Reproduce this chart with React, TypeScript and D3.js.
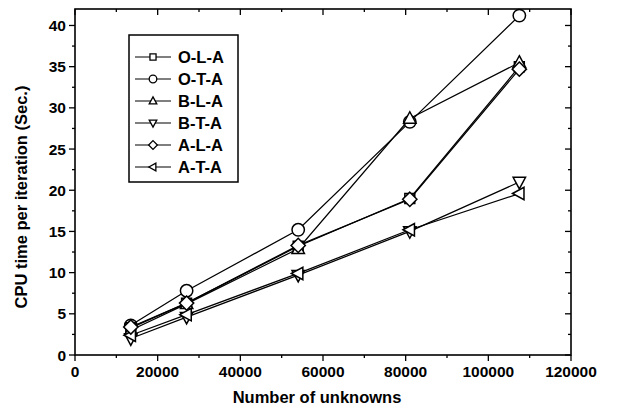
import React from "react";
import * as d3 from "d3";

const xValues = [13500, 27000, 54000, 81000, 107500];
const seriesNames = ["O-L-A", "O-T-A", "B-L-A", "B-T-A", "A-L-A", "A-T-A"];
const markerTypes = ["square", "circle", "triangleUp", "triangleDown", "diamond", "triangleLeft"];
const olaValues = [3.3, 6.3, 13.2, 19.0, 35.0];
const otaValues = [3.6, 7.8, 15.2, 28.3, 41.2];
const blaValues = [3.0, 6.2, 12.9, 28.7, 35.5];
const btaValues = [2.0, 4.6, 9.7, 15.0, 21.0];
const alaValues = [3.4, 6.3, 13.3, 18.9, 34.7];
const ataValues = [2.4, 4.9, 9.9, 15.2, 19.6];
const seriesValues = [olaValues, otaValues, blaValues, btaValues, alaValues, ataValues];
const xTicks = [0, 20000, 40000, 60000, 80000, 100000, 120000];
const yTicks = [0, 5, 10, 15, 20, 25, 30, 35, 40];

const W = 619, H = 411;
const left = 75, right = 571, top = 9, bottom = 355;
const FONT = "'Liberation Sans', Arial, Helvetica, sans-serif";

function markerPath(type: string, cx: number, cy: number, s: number): string {
  const r = s;
  switch (type) {
    case "square":
      return `M${cx - r * 0.8},${cy - r * 0.8}h${1.6 * r}v${1.6 * r}h${-1.6 * r}Z`;
    case "triangleUp":
      return `M${cx},${cy - r * 1.1}L${cx + r},${cy + r * 0.75}L${cx - r},${cy + r * 0.75}Z`;
    case "triangleDown":
      return `M${cx},${cy + r * 1.1}L${cx + r},${cy - r * 0.75}L${cx - r},${cy - r * 0.75}Z`;
    case "triangleLeft":
      return `M${cx - r * 1.1},${cy}L${cx + r * 0.75},${cy - r}L${cx + r * 0.75},${cy + r}Z`;
    case "diamond":
      return `M${cx},${cy - r * 1.15}L${cx + r * 1.15},${cy}L${cx},${cy + r * 1.15}L${cx - r * 1.15},${cy}Z`;
    default:
      return "";
  }
}

function Marker({ type, cx, cy, s, sw }: { type: string; cx: number; cy: number; s: number; sw: number }) {
  if (type === "circle") {
    return <circle cx={cx} cy={cy} r={s} fill="white" stroke="black" strokeWidth={sw} />;
  }
  return <path d={markerPath(type, cx, cy, s)} fill="white" stroke="black" strokeWidth={sw} strokeLinejoin="miter" />;
}

export default function App() {
  const x = d3.scaleLinear().domain([0, 120000]).range([left, right]);
  const y = d3.scaleLinear().domain([0, 42]).range([bottom, top]);
  const line = d3
    .line<[number, number]>()
    .x((d) => x(d[0]))
    .y((d) => y(d[1]));

  const xMinor = d3.range(0, 120001, 10000);
  const yMinor = d3.range(0, 42.01, 2.5);

  const legendRows = [57, 79, 101, 123, 145, 167];
  const drawOrder = [1, 0, 2, 3, 5, 4];

  return (
    <svg width={W} height={H} style={{ position: "absolute", left: 0, top: 0, background: "white" }}>
      <rect x={0} y={0} width={W} height={H} fill="white" />
      {/* ticks */}
      <g stroke="black" strokeWidth={1.3}>
        {xMinor.map((v) => {
          const major = v % 20000 === 0;
          const len = major ? 6 : 3;
          return (
            <g key={"xt" + v}>
              <line x1={x(v)} x2={x(v)} y1={bottom} y2={bottom + len} />
              <line x1={x(v)} x2={x(v)} y1={top} y2={top + len} />
            </g>
          );
        })}
        {yMinor.map((v) => {
          const major = v % 5 === 0;
          const len = major ? 6 : 3;
          return (
            <g key={"yt" + v}>
              <line x1={left - len} x2={left} y1={y(v)} y2={y(v)} />
              <line x1={right - len} x2={right} y1={y(v)} y2={y(v)} />
            </g>
          );
        })}
      </g>
      <rect x={left} y={top} width={right - left} height={bottom - top} fill="none" stroke="black" strokeWidth={1.6} />
      {/* tick labels */}
      <g fontFamily={FONT} fontWeight="bold" fontSize={15.5} fill="black">
        {xTicks.map((v) => (
          <text key={"xl" + v} x={x(v)} y={377} textAnchor="middle">
            {v}
          </text>
        ))}
        {yTicks.map((v) => (
          <text key={"yl" + v} x={66} y={y(v) + 5.5} textAnchor="end">
            {v}
          </text>
        ))}
      </g>
      <text x={317} y={403} textAnchor="middle" fontFamily={FONT} fontWeight="bold" fontSize={16.5}>
        Number of unknowns
      </text>
      <text
        transform={`translate(27,${(top + bottom) / 2 + 15}) rotate(-90)`}
        textAnchor="middle"
        fontFamily={FONT}
        fontWeight="bold"
        fontSize={16.5}
      >
        CPU time per iteration (Sec.)
      </text>
      {/* series */}
      {drawOrder.map((i) => {
        const pts = xValues.map((xv, j) => [xv, seriesValues[i][j]] as [number, number]);
        return (
          <g key={seriesNames[i]}>
            <path d={line(pts) || ""} fill="none" stroke="black" strokeWidth={1.25} />
            {pts.map((p, j) => (
              <Marker key={j} type={markerTypes[i]} cx={x(p[0])} cy={y(p[1])} s={6.2} sw={1.5} />
            ))}
          </g>
        );
      })}
      {/* legend */}
      <rect x={129} y={35} width={109} height={147} fill="white" stroke="black" strokeWidth={1.5} />
      {seriesNames.map((name, i) => (
        <g key={"lg" + name}>
          <line x1={135} x2={171} y1={legendRows[i]} y2={legendRows[i]} stroke="black" strokeWidth={1.2} />
          <Marker type={markerTypes[i]} cx={153} cy={legendRows[i]} s={3.8} sw={1.3} />
          <text x={178} y={legendRows[i] + 6} fontFamily={FONT} fontWeight="bold" fontSize={16.5}>
            {name}
          </text>
        </g>
      ))}
    </svg>
  );
}
